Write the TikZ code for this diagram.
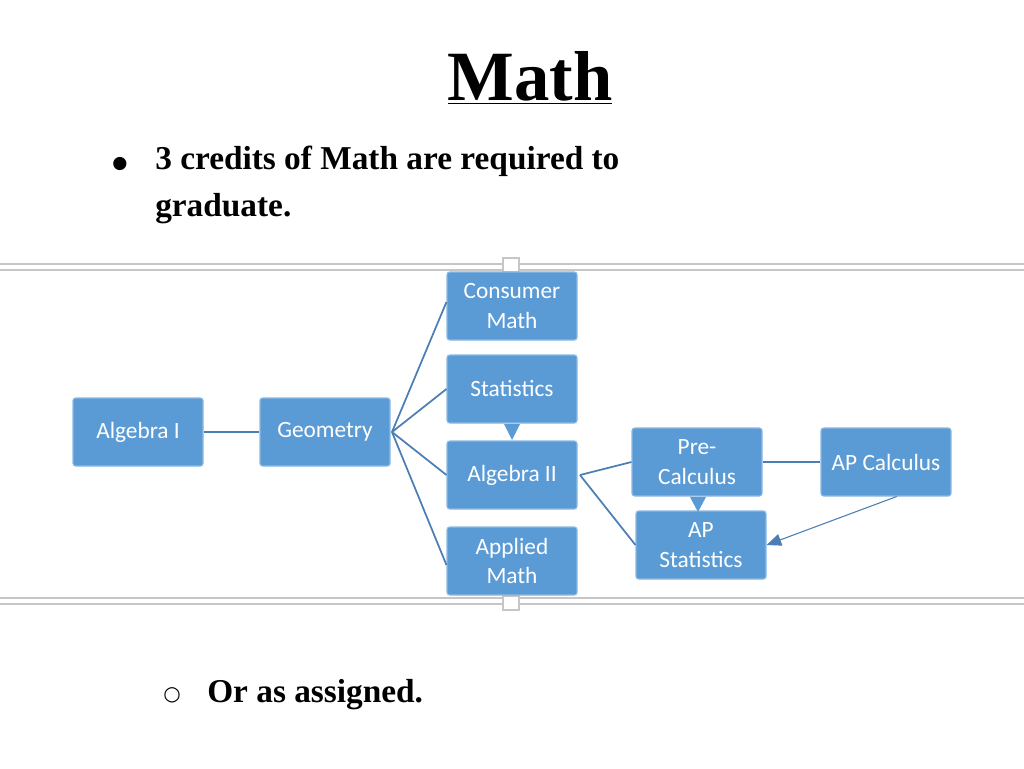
\documentclass[tikz,border=0pt]{standalone}
\usepackage{fontspec}
\setmainfont{Liberation Serif}
\newfontfamily\boxfont{Carlito}
\newfontfamily\symfont{DejaVu Sans}
\usetikzlibrary{arrows.meta}
\definecolor{boxblue}{HTML}{5B9BD5}
\definecolor{linkblue}{HTML}{4A7EB5}
\begin{document}
\begin{tikzpicture}[x=0.75pt,y=-0.75pt,
  cbox/.style={fill=boxblue,draw=boxblue!70!white,line width=0.8pt,rounded corners=2pt,minimum width=97.5pt,minimum height=51pt,align=center,text=white,font=\boxfont\fontsize{17.5}{22}\selectfont,inner sep=1pt},
  link/.style={draw=linkblue,line width=1.3pt},
  frame/.style={draw=gray!45,line width=1.2pt},
  bodytext/.style={font=\fontsize{25}{35}\selectfont\bfseries}]
\useasboundingbox (0,0) rectangle (1024,768);
\fill[white] (0,0) rectangle (1024,768);
% title
\node[font=\fontsize{53}{55}\selectfont\bfseries] (title) at (530,78) {\underline{Math}};
\node[anchor=center,font=\symfont\fontsize{13}{13}\selectfont] (b1) at (120,164) {●};
\node[anchor=north west,align=left,bodytext,inner sep=0pt] (t1) at (155,146) {3 credits of Math are required to\\graduate.};
\node[anchor=center,font=\symfont\fontsize{15}{15}\selectfont] (b2) at (172,695) {○};
\node[anchor=west,bodytext,inner sep=0pt] (t2) at (207,695) {Or as assigned.};
% frame
\draw[frame] (0,264) -- (1024,264);
\draw[frame] (0,270) -- (1024,270);
\draw[frame] (0,598) -- (1024,598);
\draw[frame] (0,604) -- (1024,604);
\draw[frame,fill=white,line width=0.8pt] (503,258) rectangle (519,272);
\draw[frame,fill=white,line width=0.8pt] (503,596) rectangle (519,610);
% boxes
\node[cbox] (alg1) at (138,432) {Algebra I};
\node[cbox] (geo) at (325,432) {Geometry};
\node[cbox] (cons) at (512,306) {Consumer\\Math};
\node[cbox] (stat) at (512,389) {Statistics};
\node[cbox] (alg2) at (512,475) {Algebra II};
\node[cbox] (appl) at (512,561) {Applied\\Math};
\node[cbox] (pre) at (697,462) {Pre-\\Calculus};
\node[cbox] (apc) at (886,462) {AP Calculus};
\node[cbox] (aps) at (701,545) {AP\\Statistics};
\fill[boxblue] (504,424) -- (520,424) -- (512,440) -- cycle;
\fill[boxblue] (690,497) -- (706,497) -- (698,512) -- cycle;
% connectors
\draw[link] (alg1) -- (geo);
\coordinate (g) at (392,432);
\draw[link] (g) -- ([yshift=3pt]cons.west);
\draw[link] (g) -- (stat.west);
\draw[link] (g) -- (alg2.west);
\draw[link] (g) -- ([yshift=-3pt]appl.west);
\coordinate (a2) at (580,475);
\draw[link] (a2) -- (pre.west);
\draw[link] (a2) -- (aps.west);
\draw[link] (pre) -- (apc);
\draw[draw=linkblue,line width=0.8pt,-{Triangle[length=11pt,width=9pt]}] ([xshift=8pt]apc.south) -- (aps.east);
\end{tikzpicture}
\end{document}
